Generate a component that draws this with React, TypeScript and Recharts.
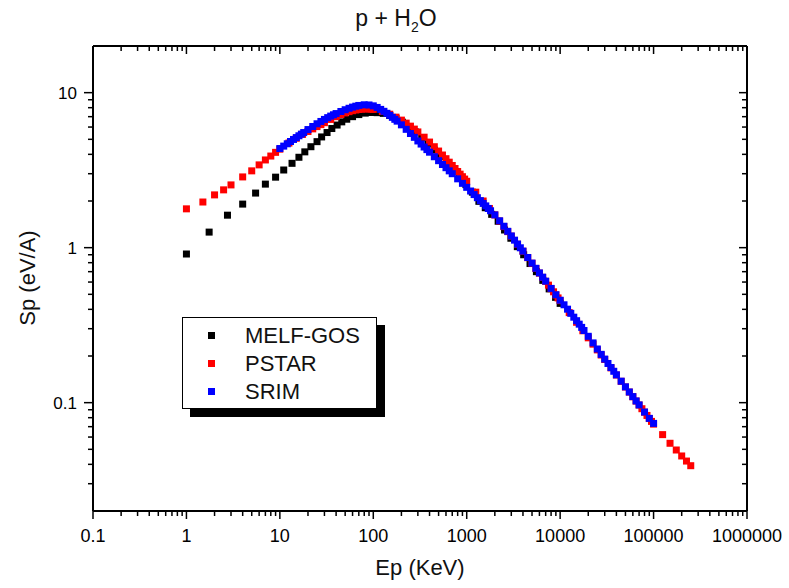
import React from 'react';
import { ScatterChart, Scatter, XAxis, YAxis, Legend } from 'recharts';

// MELF-GOS (black)
const melfEnergy = [1, 1.75, 2.75, 4, 5.5, 7, 9, 11, 13.5, 16, 18.5, 21.5, 25, 28, 32, 36, 41, 46, 52, 60,
  70, 82, 95, 110, 128, 150, 175, 205, 240, 280, 330, 385, 450, 525, 615, 720, 840, 980, 1150, 1350,
  1580, 1850, 2170, 2540, 2970, 3480, 4070, 4760, 5570, 6520, 7630, 8930, 10000];
const melfSp = [0.91, 1.26, 1.62, 1.91, 2.25, 2.57, 2.85, 3.17, 3.5, 3.83, 4.15, 4.48, 4.83, 5.18, 5.53, 5.87, 6.18, 6.48, 6.74, 7.0,
  7.22, 7.38, 7.45, 7.43, 7.35, 7.12, 6.82, 6.45, 6.02, 5.6, 5.12, 4.68, 4.26, 3.88, 3.5, 3.16, 2.84, 2.55, 2.28, 1.99,
  1.81, 1.64, 1.48, 1.3, 1.15, 1.015, 0.9, 0.79, 0.7, 0.615, 0.542, 0.478, 0.437];

// PSTAR (red)
const pstarEnergy = [1, 1.5, 2, 2.5, 3, 4, 5, 6, 7, 8, 9, 10, 12.5, 15, 17.5, 20, 22.5, 25, 27.5, 30,
  35, 40, 45, 50, 55, 60, 65, 70, 75, 80, 85, 90, 95, 100, 125, 150, 175, 200, 225, 250,
  275, 300, 350, 400, 450, 500, 550, 600, 650, 700, 750, 800, 850, 900, 950, 1000, 1250, 1500, 1750, 2000,
  2250, 2500, 2750, 3000, 3500, 4000, 4500, 5000, 5500, 6000, 6500, 7000, 7500, 8000, 8500, 9000, 9500, 10000, 12500, 15000,
  17500, 20000, 22500, 25000, 27500, 30000, 35000, 40000, 45000, 50000, 55000, 60000, 65000, 70000, 75000, 80000, 85000, 90000, 95000, 100000,
  125000, 150000, 175000, 200000, 225000, 250000];
const pstarSp = [1.78, 1.97, 2.19, 2.36, 2.54, 2.86, 3.13, 3.42, 3.68, 3.9, 4.12, 4.32, 4.73, 5.08, 5.38, 5.62, 5.84, 6.04, 6.22, 6.4,
  6.72, 7.0, 7.22, 7.4, 7.54, 7.65, 7.73, 7.79, 7.83, 7.86, 7.87, 7.86, 7.83, 7.8, 7.56, 7.26, 6.95, 6.65, 6.36, 6.08,
  5.82, 5.58, 5.16, 4.8, 4.48, 4.2, 3.96, 3.75, 3.56, 3.39, 3.24, 3.1, 2.98, 2.87, 2.77, 2.68, 2.28, 2.0, 1.79, 1.627,
  1.484, 1.367, 1.269, 1.186, 1.052, 0.948, 0.862, 0.793, 0.734, 0.685, 0.643, 0.606, 0.573, 0.544, 0.519, 0.495, 0.474, 0.455, 0.381, 0.33,
  0.291, 0.262, 0.2385, 0.219, 0.203, 0.19, 0.1677, 0.1508, 0.1373, 0.1262, 0.117, 0.1092, 0.1024, 0.0965, 0.0914, 0.0868, 0.0827, 0.079, 0.0757, 0.0727,
  0.0622, 0.0547, 0.0495, 0.0453, 0.042, 0.0392];

// SRIM (blue)
const srimEnergy = [10, 11, 12, 13, 14, 15, 16, 17, 18, 20, 22.5, 25, 27.5, 30, 32.5, 35, 37.5, 40, 45, 50,
  55, 60, 65, 70, 80, 90, 100, 110, 120, 130, 140, 150, 160, 170, 180, 200, 225, 250, 275, 300,
  325, 350, 375, 400, 450, 500, 550, 600, 650, 700, 800, 900, 1000, 1100, 1200, 1300, 1400, 1500, 1600, 1700,
  1800, 2000, 2250, 2500, 2750, 3000, 3250, 3500, 3750, 4000, 4500, 5000, 5500, 6000, 6500, 7000, 8000, 9000, 10000, 11000,
  12000, 13000, 14000, 15000, 16000, 17000, 18000, 20000, 22500, 25000, 27500, 30000, 32500, 35000, 37500, 40000, 45000, 50000, 55000, 60000,
  65000, 70000, 80000, 90000, 100000];
const srimSp = [4.36, 4.52, 4.68, 4.84, 4.99, 5.13, 5.27, 5.4, 5.53, 5.78, 6.05, 6.3, 6.52, 6.72, 6.9, 7.06, 7.2, 7.33, 7.56, 7.76,
  7.93, 8.07, 8.18, 8.27, 8.35, 8.33, 8.22, 8.03, 7.8, 7.58, 7.36, 7.14, 6.93, 6.73, 6.55, 6.2, 5.8, 5.45, 5.15, 4.88,
  4.66, 4.46, 4.29, 4.13, 3.86, 3.64, 3.44, 3.28, 3.13, 3.0, 2.78, 2.6, 2.45, 2.32, 2.2, 2.1, 2.01, 1.93, 1.86, 1.79,
  1.73, 1.627, 1.49, 1.375, 1.275, 1.19, 1.118, 1.055, 0.998, 0.95, 0.864, 0.795, 0.736, 0.687, 0.645, 0.608, 0.546, 0.497, 0.458, 0.428,
  0.401, 0.377, 0.356, 0.338, 0.321, 0.306, 0.292, 0.268, 0.243, 0.222, 0.205, 0.191, 0.179, 0.1685, 0.1594, 0.1512, 0.1376, 0.1265, 0.1172, 0.1094,
  0.1026, 0.0967, 0.087, 0.0792, 0.0735];

const xMajor = [0.1, 1, 10, 100, 1000, 10000, 100000, 1000000];
const yMajor = [0.1, 1, 10];
const minorMultipliers = [2, 3, 4, 5, 6, 7, 8, 9];

const xMinor = xMajor.slice(0, -1).flatMap((d) => minorMultipliers.map((k) => Number((k * d).toPrecision(3))));
const yMinor = [0.01, 0.1, 1].flatMap((d) => minorMultipliers.map((k) => Number((k * d).toPrecision(3))))
  .filter((v) => v > 0.02 && v < 20);
const xTicks = [...xMajor, ...xMinor].sort((a, b) => a - b);
const yTicks = [...yMajor, ...yMinor].sort((a, b) => a - b);

const toPoints = (e: number[], s: number[]) => e.map((x, i) => ({ x, y: s[i] }));
const melfData = toPoints(melfEnergy, melfSp);
const pstarData = toPoints(pstarEnergy, pstarSp);
const srimData = toPoints(srimEnergy, srimSp);

const FONT = '"Liberation Sans", Arial, sans-serif';
const MAJOR_LEN = 8;
const MINOR_LEN = 5;

const isMajor = (v: number, majors: number[]) => majors.some((m) => Math.abs(m - v) / m < 1e-6);

const BottomTick = ({ x, y, payload }: any) => {
  const major = isMajor(payload.value, xMajor);
  return (
    <g>
      <line x1={x} y1={y} x2={x} y2={y + (major ? MAJOR_LEN : MINOR_LEN)} stroke="#000" strokeWidth={1.5} />
      {major && (
        <text x={x} y={y + 31} textAnchor="middle" fontSize={18} fontFamily={FONT} fill="#000">
          {String(payload.value)}
        </text>
      )}
    </g>
  );
};

const TopTick = ({ x, y, payload }: any) => {
  const major = isMajor(payload.value, xMajor);
  return <line x1={x} y1={y} x2={x} y2={y + (major ? MAJOR_LEN : MINOR_LEN)} stroke="#000" strokeWidth={1.5} />;
};

const LeftTick = ({ x, y, payload }: any) => {
  const major = isMajor(payload.value, yMajor);
  return (
    <g>
      <line x1={x - (major ? MAJOR_LEN + 1 : MINOR_LEN)} y1={y} x2={x} y2={y} stroke="#000" strokeWidth={1.5} />
      {major && (
        <text x={x - 16} y={y + 6} textAnchor="end" fontSize={17} fontFamily={FONT} fill="#000">
          {String(payload.value)}
        </text>
      )}
    </g>
  );
};

const RightTick = ({ x, y, payload }: any) => {
  const major = isMajor(payload.value, yMajor);
  return <line x1={x - (major ? MAJOR_LEN : MINOR_LEN)} y1={y} x2={x} y2={y} stroke="#000" strokeWidth={1.5} />;
};

const squareShape = (color: string) => (props: any) => (
  <rect x={props.cx - 3.5} y={props.cy - 3.5} width={7} height={7} fill={color} />
);

const LegendBox = ({ payload }: any) => (
  <div
    style={{
      position: 'relative',
      width: 195,
      height: 92,
      border: '1px solid #000',
      background: '#fff',
      boxShadow: '8px 8px 0 #000',
      boxSizing: 'border-box',
      fontFamily: FONT,
    }}
  >
    {(payload || []).map((item: any, i: number) => (
      <div key={item.value} style={{ position: 'absolute', left: 0, top: 4 + i * 28, height: 28, width: '100%' }}>
        <span
          style={{ position: 'absolute', left: 25, top: 10, width: 7, height: 7, background: item.color }}
        />
        <span style={{ position: 'absolute', left: 62, top: 0, fontSize: 22, lineHeight: '28px', color: '#111' }}>
          {item.value}
        </span>
      </div>
    ))}
  </div>
);

const axisLine = { stroke: '#000', strokeWidth: 2 };

export default function App() {
  return (
    <div style={{ position: 'absolute', left: 0, top: 0, width: 789, height: 588, background: '#fff', fontFamily: FONT }}>
      <div style={{ position: 'absolute', left: 296, width: 200, top: 5, textAlign: 'center', fontSize: 23, lineHeight: '26px', color: '#111' }}>
        p + H<sub style={{ fontSize: 14 }}>2</sub>O
      </div>
      <div
        style={{
          position: 'absolute',
          left: 28 - 60,
          top: 278 - 12,
          width: 120,
          height: 24,
          lineHeight: '24px',
          textAlign: 'center',
          fontSize: 22,
          color: '#111',
          transform: 'rotate(-90deg)',
        }}
      >
        Sp (eV/A)
      </div>
      <div style={{ position: 'absolute', left: 320, width: 200, top: 555, textAlign: 'center', fontSize: 22, lineHeight: '26px', color: '#111' }}>
        Ep (KeV)
      </div>
      <ScatterChart width={789} height={588} margin={{ top: 36, right: 32, bottom: 47, left: 53 }}>
        <XAxis
          dataKey="x"
          type="number"
          scale="log"
          domain={[0.1, 1000000]}
          allowDataOverflow
          ticks={xTicks}
          interval={0}
          height={30}
          tickSize={0}
          tickMargin={0}
          tickLine={false}
          axisLine={axisLine}
          tick={BottomTick}
        />
        <XAxis
          xAxisId="top"
          orientation="top"
          dataKey="x"
          type="number"
          scale="log"
          domain={[0.1, 1000000]}
          allowDataOverflow
          ticks={xTicks}
          interval={0}
          height={10}
          tickSize={0}
          tickMargin={0}
          tickLine={false}
          axisLine={axisLine}
          tick={TopTick}
        />
        <YAxis
          dataKey="y"
          type="number"
          scale="log"
          domain={[0.02, 20]}
          allowDataOverflow
          ticks={yTicks}
          interval={0}
          width={40}
          tickSize={0}
          tickMargin={0}
          tickLine={false}
          axisLine={axisLine}
          tick={LeftTick}
        />
        <YAxis
          yAxisId="right"
          orientation="right"
          dataKey="y"
          type="number"
          scale="log"
          domain={[0.02, 20]}
          allowDataOverflow
          ticks={yTicks}
          interval={0}
          width={10}
          tickSize={0}
          tickMargin={0}
          tickLine={false}
          axisLine={axisLine}
          tick={RightTick}
        />
        <Scatter name="MELF-GOS" data={melfData} fill="#000000" shape={squareShape('#000000')} isAnimationActive={false} />
        <Scatter name="PSTAR" data={pstarData} fill="#ff0000" shape={squareShape('#ff0000')} isAnimationActive={false} />
        <Scatter name="SRIM" data={srimData} fill="#0000ff" shape={squareShape('#0000ff')} isAnimationActive={false} />
        <Scatter
          data={[]}
          xAxisId="top"
          yAxisId="right"
          legendType="none"
          isAnimationActive={false}
        />
        <Legend
          layout="vertical"
          align="center"
          verticalAlign="middle"
          wrapperStyle={{ left: 182, top: 317, width: 'auto', height: 'auto' }}
          content={LegendBox}
        />
      </ScatterChart>
    </div>
  );
}
